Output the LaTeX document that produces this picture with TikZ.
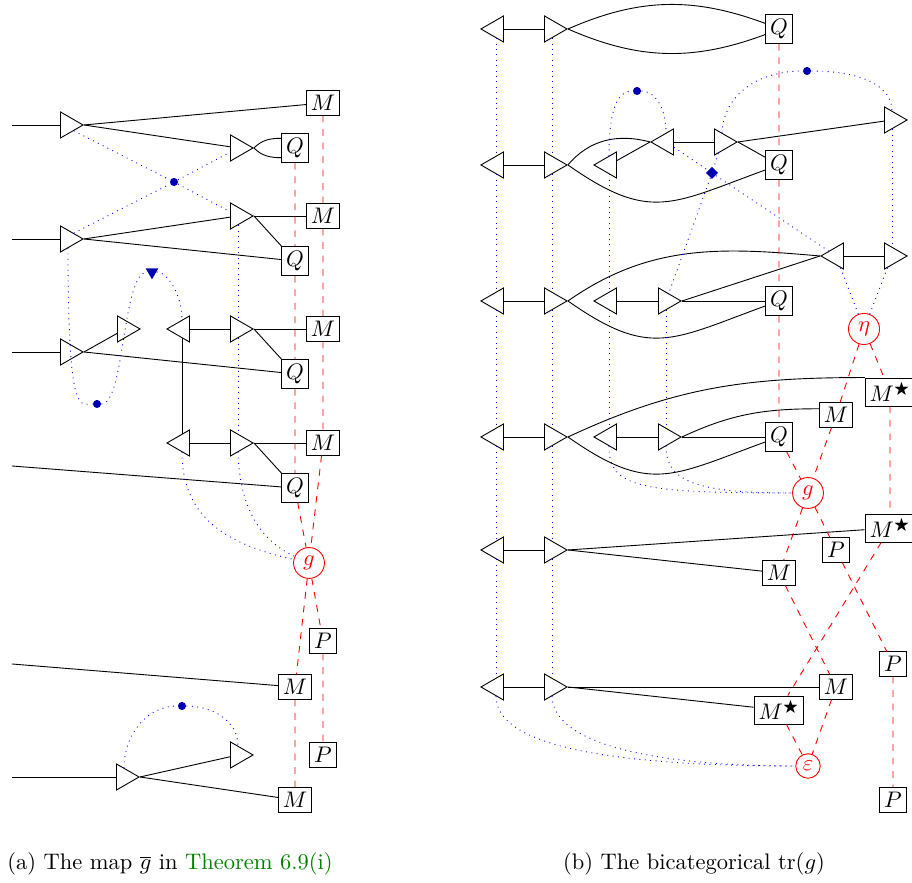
\documentclass[tikz,border=0pt]{standalone}
\usepackage{xcolor}
\usepackage{amsmath}
\usepackage{amssymb}
\usepackage{tikz}
\usetikzlibrary{shapes.geometric}
\tikzstyle{rtri} = [regular polygon, regular polygon sides = 3, regular polygon rotate = -90, draw, fill = white, inner sep = 0pt, minimum size = 0.47cm]
\tikzstyle{ltri} = [rtri, regular polygon rotate = 90]
\tikzstyle{obj} = [rectangle, draw, fill = white, inner sep = 2pt]
\tikzstyle{mor} = [circle, draw = red, text = red, fill = white, inner sep = 2pt]
\tikzstyle{str} = [red, dashed]
\tikzstyle{wre} = [blue, dotted]
\tikzstyle{bdot} = [circle, fill = blue!70!black, inner sep = 0pt, minimum size = 3.6pt]

\begin{document}
\begin{tikzpicture}[x = 0.15625mm, y = 0.15625mm]
\useasboundingbox (0, 0) rectangle (912, 883);

% (a)
\coordinate (in1) at (12, 758);
\coordinate (in2) at (12, 644);
\coordinate (in3) at (12, 531);
\coordinate (in4) at (12, 417);
\coordinate (in5) at (12, 219);
\coordinate (in6) at (12, 106);
\node [rtri] (A1) at (68, 758) {};
\node [obj] (M1) at (323, 780) {$M$};
\node [rtri] (B1) at (238, 735) {};
\node [obj] (Q1) at (295, 735) {$Q$};
\node [rtri] (A2) at (68, 644) {};
\node [rtri] (B2) at (238, 667) {};
\node [obj] (M2) at (323, 667) {$M$};
\node [obj] (Q2) at (295, 622) {$Q$};
\node [rtri] (A3) at (68, 531) {};
\node [rtri] (C3) at (125, 554) {};
\node [ltri] (D3) at (182, 554) {};
\node [rtri] (B3) at (238, 554) {};
\node [obj] (M3) at (323, 554) {$M$};
\node [obj] (Q3) at (295, 509) {$Q$};
\node [ltri] (D4) at (182, 440) {};
\node [rtri] (B4) at (238, 440) {};
\node [obj] (M4) at (323, 440) {$M$};
\node [obj] (Q4) at (295, 395) {$Q$};
\node [mor] (G) at (309, 320) {$g$};
\node [obj] (P1) at (323, 242) {$P$};
\node [obj] (M5) at (295, 196) {$M$};
\node [rtri] (A6) at (124, 106) {};
\node [rtri] (B6) at (238, 128) {};
\node [obj] (P2) at (323, 128) {$P$};
\node [obj] (M6) at (295, 83) {$M$};
\node [bdot] (d1) at (174, 701) {};
\node [regular polygon, regular polygon sides = 3, regular polygon rotate = 180, fill = blue!70!black, inner sep = 0pt, minimum size = 0.23cm] (mk) at (152, 611) {};
\node [bdot] (d2) at (97, 479) {};
\node [bdot] (d3) at (182, 177) {};

\draw (in1) to (A1.west);
\draw (A1.east) to (M1);
\draw (A1.east) to (B1);
\draw (B1.east) to [out = 45, in = 180] (Q1.145);
\draw (B1.east) to [out = -45, in = 180] (Q1.215);
\draw (in2) to (A2.west);
\draw (A2.east) to (B2);
\draw (A2.east) to (Q2);
\draw (B2.east) to (M2);
\draw (B2.east) to (Q2);
\draw (in3) to (A3.west);
\draw (A3.east) to (C3);
\draw (A3.east) to (Q3);
\draw (D3) to (B3);
\draw (B3.east) to (M3);
\draw (B3.east) to (Q3);
\draw (D3) to (D4);
\draw (D4) to (B4);
\draw (B4.east) to (M4);
\draw (B4.east) to (Q4);
\draw (in4) to (Q4);
\draw (in5) to (M5);
\draw (in6) to (A6.west);
\draw (A6.east) to (B6);
\draw (A6.east) to (M6);

\draw [str] (Q1) to (Q2) to (Q3) to (Q4) to (G) to (M5) to (M6);
\draw [str] (M1) to (M2) to (M3) to (M4) to (G) to (P1) to (P2);

\draw [wre] (A1.south east) to (d1) to (B2);
\draw [wre] (A2.north east) to (d1) to (B1);
\draw [wre] (A2.south) .. controls (68, 463) and (80, 479) .. (d2) .. controls (125, 479) and (122, 611) .. (mk) .. controls (167, 611) and (182, 589) .. (D3.north);
\draw [wre] (B2) to (B3) to (B4);
\draw [wre] (B4.south) .. controls (240, 363) and (270, 338) .. (G);
\draw [wre] (D4.south) .. controls (182, 363) and (230, 338) .. (G);
\draw [wre] (A6.north) to [out = 90, in = 180] (d3) to [out = 0, in = 90] (B6.north);

\node [anchor = base] (capa) at (170, 13) {(a) The map $\overline{g}$ in \textcolor{green!50!black}{Theorem 6.9(i)}};

% (b)
\node [ltri] (l1) at (496, 854) {};
\node [rtri] (r1) at (552, 854) {};
\node [obj] (q1) at (779, 854) {$Q$};
\node [ltri] (l2) at (496, 718) {};
\node [rtri] (r2) at (552, 718) {};
\node [ltri] (s2) at (609, 718) {};
\node [ltri] (u2) at (666, 741) {};
\node [rtri] (v2) at (722, 741) {};
\node [obj] (q2) at (779, 718) {$Q$};
\node [rtri] (w1) at (892, 763) {};
\node [ltri] (l3) at (496, 582) {};
\node [rtri] (r3) at (552, 582) {};
\node [ltri] (s3) at (609, 582) {};
\node [rtri] (t3) at (666, 582) {};
\node [obj] (q3) at (779, 582) {$Q$};
\node [ltri] (u3) at (836, 627) {};
\node [rtri] (w3) at (892, 627) {};
\node [mor] (eta) at (864, 554) {$\eta$};
\node [obj] (ms1) at (890, 491) {$M^{\bigstar}$};
\node [obj] (m1) at (836, 468) {$M$};
\node [ltri] (l4) at (496, 446) {};
\node [rtri] (r4) at (552, 446) {};
\node [ltri] (s4) at (609, 446) {};
\node [rtri] (t4) at (666, 446) {};
\node [obj] (q4) at (779, 446) {$Q$};
\node [mor] (g) at (808, 390) {$g$};
\node [obj] (ms2) at (890, 355) {$M^{\bigstar}$};
\node [obj] (p1) at (836, 333) {$P$};
\node [ltri] (l5) at (496, 333) {};
\node [rtri] (r5) at (552, 333) {};
\node [obj] (m2) at (779, 310) {$M$};
\node [obj] (p2) at (893, 219) {$P$};
\node [ltri] (l6) at (496, 196) {};
\node [rtri] (r6) at (552, 196) {};
\node [obj] (m3) at (836, 196) {$M$};
\node [obj] (ms3) at (779, 173) {$M^{\bigstar}$};
\node [mor, inner sep = 1.6pt] (e) at (808, 117) {$\varepsilon$};
\node [obj] (p3) at (893, 83) {$P$};
\node [bdot] (d4) at (637, 792) {};
\node [bdot] (d5) at (807, 812) {};
\node [diamond, fill = blue!70!black, inner sep = 0pt, minimum size = 5.5pt] (dm) at (712, 710) {};

\draw (l1) to (r1);
\draw (l2) to (r2);
\draw (l3) to (r3);
\draw (l4) to (r4);
\draw (l5) to (r5);
\draw (l6) to (r6);
\draw (r1.east) to [bend left = 22] (q1);
\draw (r1.east) to [bend right = 22] (q1);
\draw (r2.east) to [out = 50, in = 165] (u2.west);
\draw (r2.east) to [out = -35, in = 200, looseness = 1.3] (q2);
\draw (s2) to (u2.west);
\draw (u2) to (v2);
\draw (v2.east) to (w1);
\draw (v2.east) to (q2);
\draw (r3.east) to [out = 35, in = 175] (u3.west);
\draw (r3.east) to [out = -35, in = 200, looseness = 1.3] (q3);
\draw (s3) to (t3);
\draw (t3.east) to (q3);
\draw (t3.east) to (u3.west);
\draw (u3) to (w3);
\draw (r4.east) to [out = 25, in = 180] (ms1.150);
\draw (r4.east) to [out = -35, in = 200, looseness = 1.3] (q4);
\draw (s4) to (t4);
\draw (t4.east) to (q4);
\draw (t4.east) to [out = 25, in = 180] (m1.160);
\draw (r5.east) to (ms2);
\draw (r5.east) to (m2);
\draw (r6.east) to (m3);
\draw (r6.east) to (ms3);

\draw [str] (q1) to (q2) to (q3) to (q4) to (g) to (m2) to (m3) to (e);
\draw [str] (eta) to (m1) to (g) to (p1) to (p2) to (p3);
\draw [str] (eta) to (ms1) to (ms2) to (ms3) to (e);

\draw [wre] (l1) to (l2) to (l3) to (l4) to (l5) to (l6);
\draw [wre] (r1) to (r2) to (r3) to (r4) to (r5) to (r6);
\draw [wre] (l6.south) .. controls (496, 135) and (620, 117) .. (e);
\draw [wre] (r6.south) .. controls (553, 140) and (650, 117) .. (e);
\draw [wre] (s2) to (s3) to (s4);
\draw [wre] (s4.south) .. controls (609, 395) and (640, 390) .. (g);
\draw [wre] (s2.north) .. controls (609, 780) and (620, 792) .. (d4) .. controls (655, 792) and (666, 775) .. (u2.north);
\draw [wre] (v2.north) .. controls (724, 790) and (760, 812) .. (d5) .. controls (855, 812) and (892, 800) .. (w1.north);
\draw [wre] (w1) to (w3);
\draw [wre] (u2) to (dm) to (u3);
\draw [wre] (v2) to (dm) to (t3);
\draw [wre] (t3) to (t4);
\draw [wre] (t4.south) .. controls (666, 400) and (700, 390) .. (g);
\draw [wre] (u3) to (eta);
\draw [wre] (w3) to (eta);

\node [anchor = base] (capb) at (694, 13) {(b) The bicategorical $\mathrm{tr}(g)$};
\end{tikzpicture}
\end{document}
